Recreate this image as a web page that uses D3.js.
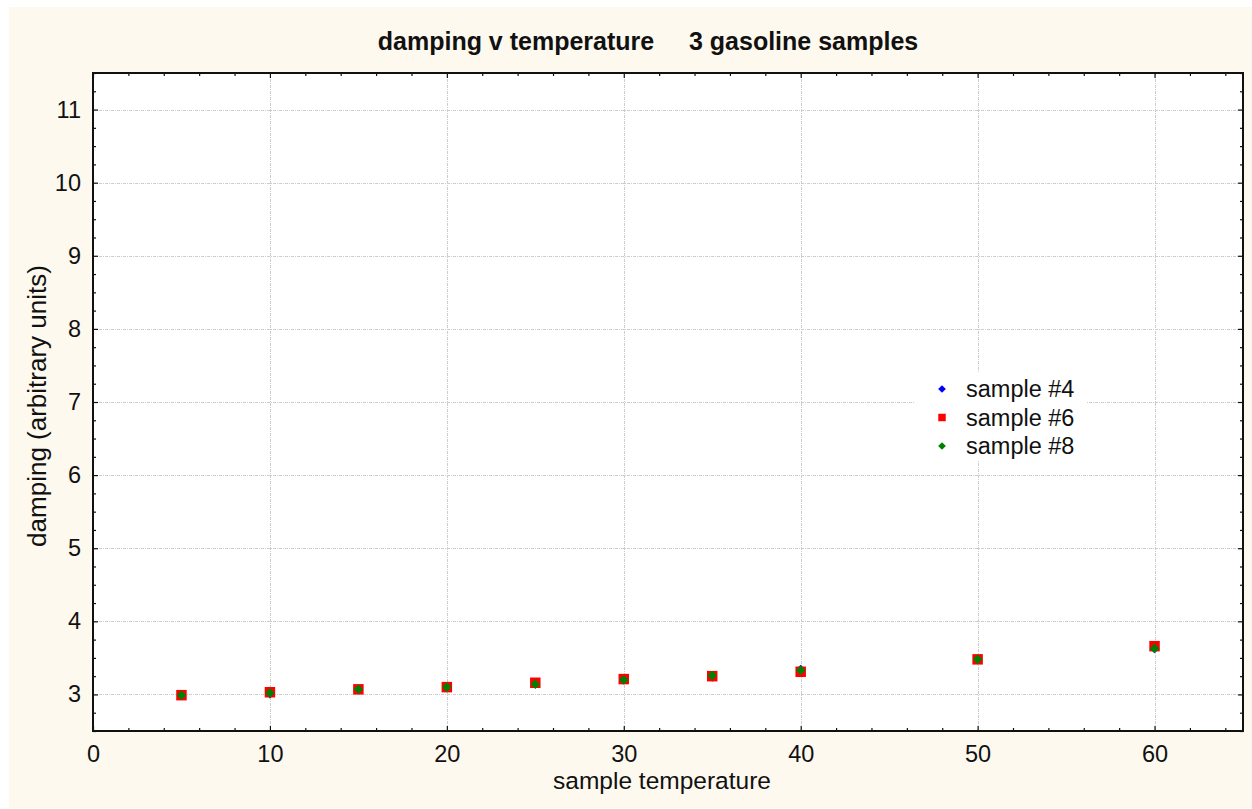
<!DOCTYPE html>
<html>
<head>
<meta charset="utf-8">
<script src="https://cdn.jsdelivr.net/npm/d3@7"></script>
<style>
  html, body { margin: 0; padding: 0; background: #ffffff; }
  svg { display: block; }
  text { font-family: "Liberation Sans", Arial, Helvetica, sans-serif; fill: #111; }
</style>
</head>
<body>
<svg id="chart" width="1252" height="809"></svg>
<script>
// Sample temperatures and measured damping for each gasoline sample
const temperatures = [5, 10, 15, 20, 25, 30, 35, 40, 50, 60];
const sample4 = [2.99, 3.01, 3.07, 3.10, 3.15, 3.20, 3.24, 3.34, 3.48, 3.63];
const sample6 = [2.99, 3.03, 3.07, 3.10, 3.16, 3.21, 3.25, 3.31, 3.48, 3.66];
const sample8 = [2.99, 3.02, 3.07, 3.10, 3.14, 3.20, 3.26, 3.33, 3.48, 3.63];

const seriesNames = ["sample #4", "sample #6", "sample #8"];
const xTicks = [0, 10, 20, 30, 40, 50, 60];
const yTicks = [3, 4, 5, 6, 7, 8, 9, 10, 11];

const titleText = "damping v temperature\u00a0\u00a0\u00a0\u00a0\u00a03 gasoline samples";
const xLabel = "sample temperature";
const yLabel = "damping (arbitrary units)";

const W = 1252, H = 809;
const plot = { left: 93, top: 73, right: 1243, bottom: 731 };

const svg = d3.select("#chart");

// panel background
svg.append("rect")
  .attr("x", 9).attr("y", 7).attr("width", W - 9).attr("height", 801)
  .attr("fill", "#fef9ee");

const x = d3.scaleLinear().domain([0, 65]).range([plot.left, plot.right]);
const y = d3.scaleLinear().domain([2.5, 11.5]).range([plot.bottom, plot.top]);

// plotting area
svg.append("rect")
  .attr("x", plot.left).attr("y", plot.top)
  .attr("width", plot.right - plot.left).attr("height", plot.bottom - plot.top)
  .attr("fill", "#ffffff");

// grid lines
const grid = svg.append("g").attr("stroke", "#cdcdcd").attr("stroke-width", 1)
  .attr("stroke-dasharray", "3,1,1,1");
grid.selectAll("line.gx").data(xTicks.filter(d => d > 0)).join("line")
  .attr("x1", d => Math.round(x(d)) + 0.5).attr("x2", d => Math.round(x(d)) + 0.5)
  .attr("y1", plot.top).attr("y2", plot.bottom);
grid.selectAll("line.gy").data(yTicks).join("line")
  .attr("y1", d => Math.round(y(d)) + 0.5).attr("y2", d => Math.round(y(d)) + 0.5)
  .attr("x1", plot.left).attr("x2", plot.right);

// axes with inward ticks on all four sides
const xMinor = d3.range(0, 65.001, 2).filter(d => d % 10 !== 0);
const yMinor = d3.range(2.5, 11.5001, 0.25).filter(d => Math.abs(d - Math.round(d)) > 1e-6);

function styleAxis(g) {
  g.select(".domain").remove();
  g.selectAll(".tick line").attr("stroke", "#111").attr("stroke-width", 1.2);
}

const fontTick = 23.5;

svg.append("g").attr("transform", `translate(0,${plot.bottom})`)
  .call(d3.axisBottom(x).tickValues(xTicks).tickSizeInner(-5).tickSizeOuter(0).tickPadding(14).tickFormat(d3.format("d")))
  .call(styleAxis)
  .call(g => g.selectAll("text").attr("font-size", fontTick).attr("font-family", "Liberation Sans, Arial, sans-serif").attr("fill", "#111"));
svg.append("g").attr("transform", `translate(0,${plot.bottom})`)
  .call(d3.axisBottom(x).tickValues(xMinor).tickSizeInner(-3).tickSizeOuter(0).tickFormat(""))
  .call(styleAxis);
svg.append("g").attr("transform", `translate(0,${plot.top})`)
  .call(d3.axisTop(x).tickValues(xTicks).tickSizeInner(-5).tickSizeOuter(0).tickFormat(""))
  .call(styleAxis);
svg.append("g").attr("transform", `translate(0,${plot.top})`)
  .call(d3.axisTop(x).tickValues(xMinor).tickSizeInner(-3).tickSizeOuter(0).tickFormat(""))
  .call(styleAxis);

svg.append("g").attr("transform", `translate(${plot.left},0)`)
  .call(d3.axisLeft(y).tickValues(yTicks).tickSizeInner(-5).tickSizeOuter(0).tickPadding(12).tickFormat(d3.format("d")))
  .call(styleAxis)
  .call(g => g.selectAll("text").attr("font-size", fontTick).attr("font-family", "Liberation Sans, Arial, sans-serif").attr("fill", "#111"));
svg.append("g").attr("transform", `translate(${plot.left},0)`)
  .call(d3.axisLeft(y).tickValues(yMinor).tickSizeInner(-3).tickSizeOuter(0).tickFormat(""))
  .call(styleAxis);
svg.append("g").attr("transform", `translate(${plot.right},0)`)
  .call(d3.axisRight(y).tickValues(yTicks).tickSizeInner(-5).tickSizeOuter(0).tickFormat(""))
  .call(styleAxis);
svg.append("g").attr("transform", `translate(${plot.right},0)`)
  .call(d3.axisRight(y).tickValues(yMinor).tickSizeInner(-3).tickSizeOuter(0).tickFormat(""))
  .call(styleAxis);

// frame
svg.append("rect")
  .attr("x", plot.left).attr("y", plot.top)
  .attr("width", plot.right - plot.left).attr("height", plot.bottom - plot.top)
  .attr("fill", "none").attr("stroke", "#111").attr("stroke-width", 2);

// markers: blue first, red square, green diamond on top
const series = [
  { name: seriesNames[0], values: sample4, color: "#0000ff", shape: "diamond", size: 46 },
  { name: seriesNames[1], values: sample6, color: "#ff0000", shape: "square", size: 110 },
  { name: seriesNames[2], values: sample8, color: "#008000", shape: "diamond", size: 46 }
];

series.forEach(s => {
  const pts = temperatures.map((t, i) => ({ t, v: s.values[i] }));
  svg.append("g").selectAll("path").data(pts).join("path")
    .attr("d", d3.symbol(d3.symbolSquare, s.size)())
    .attr("transform", d => `translate(${x(d.t)},${y(d.v)})` + (s.shape === "diamond" ? " rotate(45)" : ""))
    .attr("fill", s.color);
});

// legend
const legend = svg.append("g");
legend.append("rect")
  .attr("x", 914).attr("y", 372).attr("width", 172).attr("height", 89)
  .attr("fill", "#ffffff");
series.forEach((s, i) => {
  const cy = 389 + i * 28.5;
  legend.append("path")
    .attr("d", d3.symbol(d3.symbolSquare, s.shape === "diamond" ? 30 : 56)())
    .attr("transform", `translate(942,${cy})` + (s.shape === "diamond" ? " rotate(45)" : ""))
    .attr("fill", s.color);
  legend.append("text")
    .attr("x", 966).attr("y", cy).attr("dy", "0.35em")
    .attr("font-size", 23.5)
    .text(s.name);
});

// titles
svg.append("text")
  .attr("x", 648).attr("y", 50)
  .attr("text-anchor", "middle")
  .attr("font-size", 25).attr("font-weight", "bold")
  .text(titleText);

svg.append("text")
  .attr("x", 662).attr("y", 789)
  .attr("text-anchor", "middle")
  .attr("font-size", 24.5)
  .text(xLabel);

svg.append("text")
  .attr("transform", `translate(46,406) rotate(-90)`)
  .attr("text-anchor", "middle")
  .attr("font-size", 26)
  .text(yLabel);
</script>
</body>
</html>
